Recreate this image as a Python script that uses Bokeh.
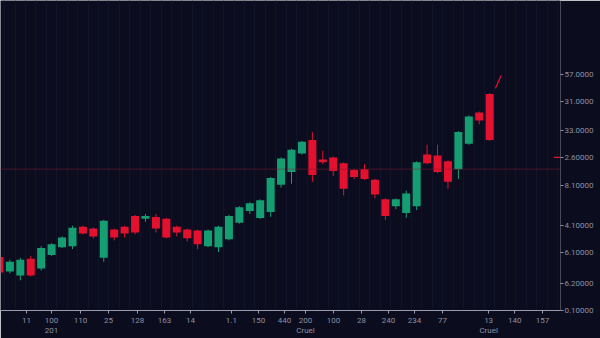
from bokeh.plotting import figure
from bokeh.models import LinearAxis, FixedTicker, Range1d, Span
from bokeh.embed import file_html
from bokeh.resources import INLINE

# Candle data (index order, arbitrary price-level units)
opens  = [55, 40, 36, 53, 43, 57, 65, 66, 86, 84, 54, 83, 86, 97, 94, 96, 94, 86, 83, 82,
          66, 65, 73, 90, 102, 95, 101, 129, 142, 161, 175, 155, 157, 151, 144, 145, 134, 114,
          107, 100, 107, 160, 159, 153, 145, 171, 203, 222]
closes = [39, 50, 52, 36, 64, 68, 75, 85, 79, 76, 92, 75, 79, 80, 97, 84, 75, 80, 74, 68,
          82, 86, 97, 106, 110, 113, 136, 156, 165, 173, 139, 152, 143, 125, 137, 135, 119, 97,
          114, 120, 152, 151, 142, 132, 183, 199, 195, 175]
highs  = [57, 52, 54, 56, 66, 69, 76, 87, 87, 85, 93, 84, 87, 98, 99, 99, 95, 87, 84, 83,
          83, 87, 98, 107, 111, 114, 137, 157, 166, 174, 183, 164, 158, 152, 145, 150, 135, 115,
          115, 123, 153, 170, 170, 154, 184, 200, 204, 223]
lows   = [36, 38, 31, 35, 41, 56, 64, 63, 78, 74, 50, 72, 75, 78, 91, 80, 74, 76, 71, 63,
          65, 60, 72, 89, 99, 94, 96, 126, 130, 160, 132, 150, 138, 118, 135, 134, 115, 93,
          104, 95, 103, 150, 141, 125, 135, 170, 191, 174]

# Axis ticks
x_tick_pos = [2.59, 4.99, 7.77, 10.45, 13.23, 15.82, 18.31, 22.24, 24.83, 27.32,
              29.34, 32.02, 34.71, 37.3, 39.8, 42.47, 46.9, 49.4, 52.06]
x_tick_labels = ["11", "100\n201", "110", "25", "128", "163", "14", "1.1", "150", "440",
                 "200\nCruel", "100", "28", "240", "234", "77", "13\nCruel", "140", "157"]
y_tick_pos = [242, 214, 185, 157, 128, 87, 59, 28, 0]
y_tick_labels = ["57.0000", "31.0000", "33.0000", "2.60000", "8.10000",
                 "4.10000", "6.10000", "6.20000", "0.10000"]
ref_level = 145

GREEN = "#169e73"
RED = "#e3102e"
BG = "#0b0d1f"
TXT = "#8d90a0"

idx = list(range(len(opens)))
up = [c >= o for o, c in zip(opens, closes)]
ui = [i for i in idx if up[i]]
di = [i for i in idx if not up[i]]

p = figure(width=600, height=338, output_backend="svg", toolbar_location=None,
           x_range=Range1d(0.1, 53.79), y_range=Range1d(0, 318),
           background_fill_color=BG, border_fill_color=BG, outline_line_color=None,
           min_border_left=0, min_border_top=0, min_border_right=40, min_border_bottom=20,
           x_axis_location=None, y_axis_location=None)

# very faint grid
p.xgrid.ticker = FixedTicker(ticks=[i + 0.5 for i in range(-1, 54)])
p.xgrid.grid_line_color = "#10132a"
p.xgrid.grid_line_width = 1
p.ygrid.grid_line_color = None

# reference dotted line
p.add_layout(Span(location=ref_level, dimension="width", line_color="#8a1a32",
                  line_width=1, line_dash="1 1"))

# wicks
p.segment([i for i in ui], [highs[i] for i in ui], [i for i in ui], [lows[i] for i in ui],
          line_color=GREEN, line_width=1)
p.segment([i for i in di], [highs[i] for i in di], [i for i in di], [lows[i] for i in di],
          line_color=RED, line_width=1)
# bodies
p.vbar(x=ui, width=0.77, top=[closes[i] for i in ui], bottom=[opens[i] for i in ui],
       fill_color=GREEN, line_color=None)
p.vbar(x=di, width=0.77, top=[opens[i] for i in di], bottom=[closes[i] for i in di],
       fill_color=RED, line_color=None)

# small marker arrow above last candle
last = len(opens) - 1
p.segment(x0=[last + 1.1], y0=[highs[last] + 18], x1=[last + 0.55], y1=[highs[last] + 5],
          line_color=RED, line_width=1.2)
# price marker at reference label
p.segment(x0=[53.15], y0=[y_tick_pos[3]], x1=[53.79], y1=[y_tick_pos[3]],
          line_color=RED, line_width=1.2)

FONT = "Roboto"
xaxis = LinearAxis(ticker=FixedTicker(ticks=x_tick_pos),
                   major_label_overrides={t: l for t, l in zip(x_tick_pos, x_tick_labels)})
xaxis.axis_line_color = "#9a9cab"
xaxis.major_tick_line_color = "#9a9cab"
xaxis.major_tick_out = 3
xaxis.major_tick_in = 0
xaxis.minor_tick_line_color = None
xaxis.major_label_text_color = TXT
xaxis.major_label_text_font = FONT
xaxis.major_label_text_font_size = "8px"
xaxis.major_label_standoff = 2
p.add_layout(xaxis, "below")

yaxis = LinearAxis(ticker=FixedTicker(ticks=y_tick_pos),
                   major_label_overrides={t: l for t, l in zip(y_tick_pos, y_tick_labels)})
yaxis.axis_line_color = None
yaxis.major_tick_line_color = TXT
yaxis.major_tick_out = 3
yaxis.major_tick_in = 0
yaxis.minor_tick_line_color = None
yaxis.major_label_text_color = TXT
yaxis.major_label_text_font = FONT
yaxis.major_label_text_font_size = "8px"
yaxis.major_label_standoff = 1
p.add_layout(yaxis, "right")

open("out.html", "w").write(file_html(p, INLINE))
